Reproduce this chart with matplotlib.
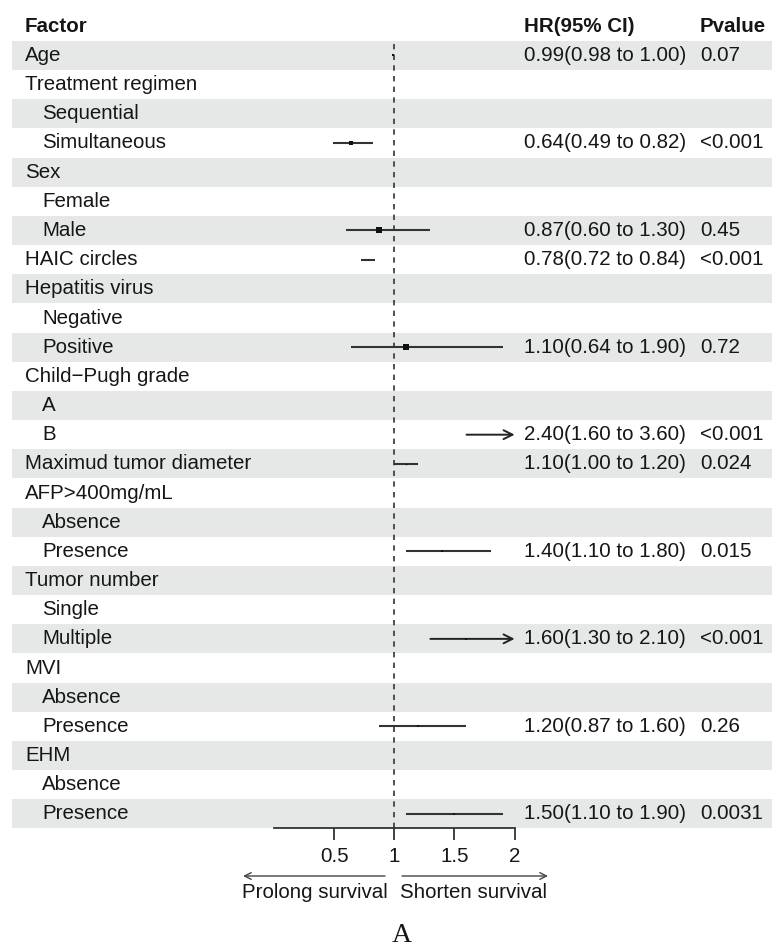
import numpy as np
import matplotlib
matplotlib.use("Agg")
import matplotlib.pyplot as plt

plt.rcParams['font.family'] = ['Liberation Sans', 'DejaVu Sans']

# table rows (top to bottom)
factors = ["Age", "Treatment regimen", "Sequential", "Simultaneous", "Sex", "Female", "Male",
           "HAIC circles", "Hepatitis virus", "Negative", "Positive", "Child\u2212Pugh grade",
           "A", "B", "Maximud tumor diameter", "AFP>400mg/mL", "Absence", "Presence",
           "Tumor number", "Single", "Multiple", "MVI", "Absence", "Presence", "EHM",
           "Absence", "Presence"]
indent = [0, 0, 1, 1, 0, 1, 1, 0, 0, 1, 1, 0, 1, 1, 0, 0, 1, 1, 0, 1, 1, 0, 1, 1, 0, 1, 1]

nan = np.nan
hr = [0.99, nan, nan, 0.64, nan, nan, 0.87, 0.78, nan, nan, 1.10, nan, nan, 2.40, 1.10,
      nan, nan, 1.40, nan, nan, 1.60, nan, nan, 1.20, nan, nan, 1.50]
lo = [0.98, nan, nan, 0.49, nan, nan, 0.60, 0.72, nan, nan, 0.64, nan, nan, 1.60, 1.00,
      nan, nan, 1.10, nan, nan, 1.30, nan, nan, 0.87, nan, nan, 1.10]
hi = [1.00, nan, nan, 0.82, nan, nan, 1.30, 0.84, nan, nan, 1.90, nan, nan, 3.60, 1.20,
      nan, nan, 1.80, nan, nan, 2.10, nan, nan, 1.60, nan, nan, 1.90]
hr_text = ["0.99(0.98 to 1.00)", "", "", "0.64(0.49 to 0.82)", "", "", "0.87(0.60 to 1.30)",
           "0.78(0.72 to 0.84)", "", "", "1.10(0.64 to 1.90)", "", "", "2.40(1.60 to 3.60)",
           "1.10(1.00 to 1.20)", "", "", "1.40(1.10 to 1.80)", "", "", "1.60(1.30 to 2.10)",
           "", "", "1.20(0.87 to 1.60)", "", "", "1.50(1.10 to 1.90)"]
p_text = ["0.07", "", "", "<0.001", "", "", "0.45", "<0.001", "", "", "0.72", "", "",
          "<0.001", "0.024", "", "", "0.015", "", "", "<0.001", "", "", "0.26", "", "", "0.0031"]
box = [2.0, 0, 0, 2.5, 0, 0, 4.0, 0.5, 0, 0, 4.0, 0, 0, 1.0, 1.0, 0, 0, 1.5, 0, 0, 1.5,
       0, 0, 1.5, 0, 0, 1.5]

xticks = [0.5, 1, 1.5, 2]
xlim = (0, 2)

W, H = 784, 948
row0, rowh = 26.3, 29.17          # pixel centre of header row, row height
fs = 14.8
txt = '#161616'
line_c = '#333333'

fig = plt.figure(figsize=(W / 100, H / 100), dpi=100)

# background / table axes in pixel-x, row-y
bg = fig.add_axes([0, 0, 1, 1])
bg.set_xlim(0, W)
bg.set_ylim((H - row0) / rowh, -row0 / rowh)
bg.axis('off')

n = len(factors)
rows = np.arange(1, n + 1)
for r in rows[::2]:
    bg.axhspan(r - 0.5, r + 0.5, xmin=12 / W, xmax=772 / W, color='#e6e8e8', lw=0, zorder=0)

bg.text(25, 0, "Factor", fontsize=fs, fontweight='bold', va='center', color=txt)
bg.text(524, 0, "HR(95% CI)", fontsize=fs, fontweight='bold', va='center', color=txt)
bg.text(700, 0, "Pvalue", fontsize=fs, fontweight='bold', va='center', color=txt)
for r, name, ind, h, p in zip(rows, factors, indent, hr_text, p_text):
    bg.text(25 + 17 * ind, r, name, fontsize=fs, va='center', color=txt)
    bg.text(524, r, h, fontsize=fs, va='center', color=txt)
    bg.text(700, r, p, fontsize=fs, va='center', color=txt)

# forest panel
top_px = row0 + rowh * 0.5
bot_px = row0 + rowh * (n + 0.5)
x0_px, x1_px = 274, 514.6
ax = fig.add_axes([x0_px / W, (H - bot_px) / H, (x1_px - x0_px) / W, (bot_px - top_px) / H])
ax.patch.set_alpha(0)
ax.set_xlim(*xlim)
ax.set_ylim(n + 0.5, 0.5)
ax.axvline(1, color=line_c, lw=1.2, ls=(0, (3.2, 3.2)), zorder=1)

for r, m, l, u, s in zip(rows, hr, lo, hi, box):
    if np.isnan(m):
        continue
    a, b = max(l, xlim[0]), min(u, xlim[1])
    if u > xlim[1]:
        ax.annotate('', xy=(b, r), xytext=(a, r),
                    arrowprops=dict(arrowstyle='->', color='#222222', lw=1.4,
                                    shrinkA=0, shrinkB=0, mutation_scale=16))
    else:
        ax.plot([a, b], [r, r], color=line_c, lw=1.5, solid_capstyle='butt', zorder=2)
    if s > 0:
        ax.plot(m, r, marker='s', ms=s, color='#111111', mew=0, zorder=3)

for side in ['top', 'right', 'left']:
    ax.spines[side].set_visible(False)
ax.spines['bottom'].set_color(line_c)
ax.spines['bottom'].set_linewidth(1.3)
ax.set_yticks([])
ax.set_xticks(xticks)
ax.set_xticklabels(['0.5', '1', '1.5', '2'])
ax.tick_params(axis='x', length=8.5, width=1.3, color=line_c, labelsize=fs,
               labelcolor=txt, pad=5)

# direction arrows under the axis
ay = H - 876
fig.add_artist(matplotlib.patches.FancyArrowPatch((385, ay), (243, ay), transform=None,
               arrowstyle='->', mutation_scale=12, color='#444444', lw=1.0,
               shrinkA=0, shrinkB=0))
fig.add_artist(matplotlib.patches.FancyArrowPatch((402, ay), (548, ay), transform=None,
               arrowstyle='->', mutation_scale=12, color='#444444', lw=1.0,
               shrinkA=0, shrinkB=0))
fig.text(315 / W, 1 - 893 / H, "Prolong survival", fontsize=fs, ha='center', va='center', color=txt)
fig.text(474 / W, 1 - 893 / H, "Shorten survival", fontsize=fs, ha='center', va='center', color=txt)
fig.text(402 / W, 1 - 935 / H, "A", fontsize=20, ha='center', va='center', color=txt,
         family='Liberation Serif')

fig.savefig("out.png", dpi=100, facecolor='white')
